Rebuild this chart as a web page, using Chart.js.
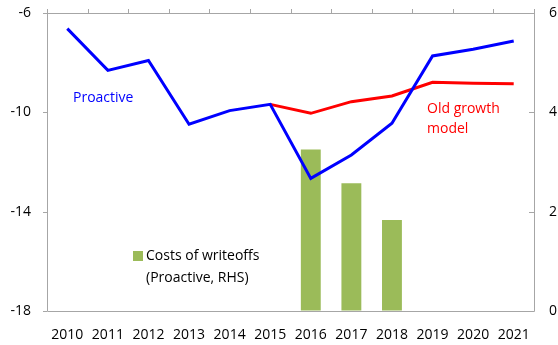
<!DOCTYPE html>
<html>
<head>
<meta charset="utf-8">
<script src="https://cdn.jsdelivr.net/npm/chart.js@4/dist/chart.umd.min.js"></script>
<style>
  html, body { margin: 0; padding: 0; background: #fff; }
  #wrap { width: 558px; height: 345px; }
</style>
</head>
<body>
<div id="wrap"><canvas id="myChart" width="558" height="345"></canvas></div>
<script>
const years = ['2010', '2011', '2012', '2013', '2014', '2015', '2016', '2017', '2018', '2019', '2020', '2021'];
const proactive = [-6.63, -8.31, -7.91, -10.48, -9.93, -9.68, -12.66, -11.72, -10.44, -7.73, -7.46, -7.13];
const oldGrowth = [null, null, null, null, null, -9.68, -10.04, -9.57, -9.34, -8.79, -8.83, -8.85];
const writeoffCosts = [null, null, null, null, null, null, 3.25, 2.57, 1.83, null, null, null];
const leftTicks = [-18, -14, -10, -6];
const rightTicks = [0, 2, 4, 6];

const FONT = "'Open Sans', 'DejaVu Sans', sans-serif";
const AXIS_GREY = '#a6a6a6';

// invisible tick marks, only used to push the labels away from the frame
function spacer(len) {
    return { display: true, drawOnChartArea: false, drawTicks: true, tickLength: len, color: 'transparent' };
}

// frame, tick marks and the in-chart labels
const decorations = {
    id: 'decorations',
    afterDraw(chart) {
        const ctx = chart.ctx;
        const { left, right, top, bottom } = chart.chartArea;
        const x = chart.scales.x;
        const y = chart.scales.y;
        const y1 = chart.scales.y1;

        ctx.save();
        ctx.strokeStyle = AXIS_GREY;
        ctx.lineWidth = 1;
        ctx.beginPath();
        ctx.moveTo(left + 0.5, top - 4);
        ctx.lineTo(left + 0.5, bottom + 0.5);
        ctx.lineTo(right + 0.5, bottom + 0.5);
        ctx.lineTo(right + 0.5, top - 4);
        ctx.moveTo(left, top + 0.5);
        ctx.lineTo(right + 1, top + 0.5);
        // category ticks along the top edge
        for (let i = 1; i < years.length; i++) {
            const px = Math.round((x.getPixelForTick(i - 1) + x.getPixelForTick(i)) / 2) + 0.5;
            ctx.moveTo(px, top - 4);
            ctx.lineTo(px, top);
        }
        leftTicks.forEach(v => {
            const py = Math.round(y.getPixelForValue(v)) + 0.5;
            ctx.moveTo(left - 4, py);
            ctx.lineTo(left, py);
        });
        rightTicks.forEach(v => {
            const py = Math.round(y1.getPixelForValue(v)) + 0.5;
            ctx.moveTo(right - 5, py);
            ctx.lineTo(right, py);
        });
        ctx.stroke();

        ctx.font = '14px ' + FONT;
        ctx.textBaseline = 'middle';
        ctx.textAlign = 'left';
        ctx.fillStyle = '#0000ff';
        ctx.fillText('Proactive', 73, 98);
        ctx.fillStyle = '#ff0000';
        ctx.fillText('Old growth', 427, 109);
        ctx.fillText('model', 427, 129);

        ctx.fillStyle = '#9bbb59';
        ctx.fillRect(133, 251, 10, 10);
        ctx.fillStyle = '#000';
        ctx.fillText('Costs of writeoffs', 146, 256);
        ctx.fillText('(Proactive, RHS)', 146, 278);
        ctx.restore();
    }
};

const ctx = document.getElementById('myChart').getContext('2d');
const myChart = new Chart(ctx, {
    data: {
        labels: years,
        datasets: [
            {
                type: 'line',
                label: 'Proactive',
                data: proactive,
                borderColor: '#0000ff',
                borderWidth: 3,
                pointRadius: 0,
                tension: 0,
                yAxisID: 'y',
                order: 1
            },
            {
                type: 'line',
                label: 'Old growth model',
                data: oldGrowth,
                borderColor: '#ff0000',
                borderWidth: 3,
                pointRadius: 0,
                tension: 0,
                yAxisID: 'y',
                order: 2
            },
            {
                type: 'bar',
                label: 'Costs of writeoffs (Proactive, RHS)',
                data: writeoffCosts,
                backgroundColor: '#9bbb59',
                barPercentage: 0.49,
                categoryPercentage: 1,
                yAxisID: 'y1',
                order: 3
            }
        ]
    },
    options: {
        responsive: false,
        animation: false,
        layout: { padding: { top: 13, left: 0, right: 0, bottom: 0 } },
        plugins: {
            legend: { display: false },
            tooltip: { enabled: false }
        },
        scales: {
            x: {
                offset: true,
                grid: spacer(16),
                border: { display: false },
                ticks: {
                    color: '#000',
                    font: { family: FONT, size: 14 },
                    padding: 0,
                    maxRotation: 0,
                    autoSkip: false
                },
                afterFit(scale) { scale.height = 34; }
            },
            y: {
                position: 'left',
                min: -18,
                max: -6,
                afterBuildTicks(scale) { scale.ticks = leftTicks.map(v => ({ value: v })); },
                grid: spacer(16),
                border: { display: false },
                ticks: {
                    color: '#000',
                    font: { family: FONT, size: 14 },
                    padding: 0
                },
                afterFit(scale) { scale.width = 47; }
            },
            y1: {
                position: 'right',
                min: 0,
                max: 6,
                afterBuildTicks(scale) { scale.ticks = rightTicks.map(v => ({ value: v })); },
                grid: spacer(15),
                border: { display: false },
                ticks: {
                    color: '#000',
                    font: { family: FONT, size: 14 },
                    padding: 0
                },
                afterFit(scale) { scale.width = 24; }
            }
        }
    },
    plugins: [decorations]
});
</script>
</body>
</html>
